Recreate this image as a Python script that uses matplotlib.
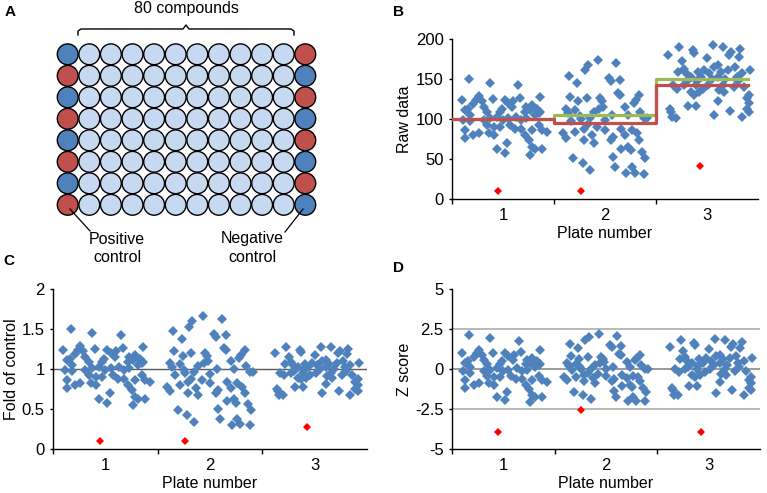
import matplotlib
matplotlib.use("Agg")
import matplotlib.pyplot as plt
from matplotlib.patches import Circle

plt.rcParams['font.family'] = ['Liberation Sans', 'DejaVu Sans']

# %% Data
plates = [1, 2, 3]

# position of each compound inside its plate slot (0 = left edge, 1 = right edge)
pos_p1 = [0.17, 0.37, 0.65, 0.10, 0.86, 0.67, 0.40, 0.26, 0.24, 0.29, 0.21, 0.31, 0.16,
          0.13, 0.34, 0.52, 0.55, 0.59, 0.60, 0.49, 0.47, 0.73, 0.78, 0.83, 0.86, 0.72,
          0.76, 0.11, 0.18, 0.37, 0.44, 0.50, 0.55, 0.63, 0.68, 0.73, 0.81, 0.85, 0.13,
          0.21, 0.26, 0.36, 0.41, 0.47, 0.57, 0.62, 0.68, 0.78, 0.85, 0.88, 0.93, 0.72,
          0.13, 0.75, 0.41, 0.34, 0.54, 0.44, 0.52, 0.78, 0.81, 0.88, 0.76, 0.31, 0.18]
pos_p2 = [0.43, 0.61, 0.33, 0.30, 0.15, 0.23, 0.54, 0.56, 0.65, 0.63, 0.65, 0.16, 0.32,
          0.45, 0.47, 0.83, 0.80, 0.78, 0.24, 0.12, 0.21, 0.48, 0.44, 0.70, 0.84, 0.39,
          0.14, 0.25, 0.57, 0.73, 0.88, 0.91, 0.17, 0.26, 0.35, 0.50, 0.32, 0.42, 0.50,
          0.29, 0.66, 0.76, 0.09, 0.21, 0.37, 0.12, 0.29, 0.39, 0.58, 0.56, 0.70, 0.81,
          0.83, 0.66, 0.73, 0.75, 0.86, 0.58, 0.19, 0.28, 0.35, 0.60, 0.76, 0.71, 0.79,
          0.88, 0.89]
pos_p3 = [0.56, 0.66, 0.23, 0.36, 0.74, 0.82, 0.72, 0.12, 0.37, 0.25, 0.50, 0.81, 0.27,
          0.57, 0.61, 0.77, 0.92, 0.22, 0.29, 0.41, 0.47, 0.52, 0.64, 0.71, 0.84, 0.34,
          0.44, 0.61, 0.79, 0.17, 0.21, 0.27, 0.39, 0.46, 0.51, 0.66, 0.76, 0.86, 0.34,
          0.42, 0.67, 0.37, 0.91, 0.89, 0.61, 0.31, 0.39, 0.91, 0.89, 0.14, 0.15, 0.57,
          0.73, 0.91, 0.84, 0.16, 0.20, 0.40, 0.55, 0.68, 0.30, 0.80, 0.62]

# B: raw data
raw_p1 = [150, 145, 142, 124, 128, 126, 125, 129, 124, 122, 119, 115, 113, 111, 109, 124,
          120, 115, 122, 113, 109, 115, 118, 113, 109, 109, 111, 99, 97, 101, 103, 99, 101,
          103, 99, 101, 105, 107, 86, 80, 82, 82, 80, 90, 92, 88, 88, 86, 92, 86, 84, 80,
          76, 74, 90, 92, 70, 62, 58, 65, 63, 63, 55, 99, 105]
raw_p2 = [174, 170, 168, 161, 154, 145, 151, 147, 149, 132, 130, 128, 126, 126, 122, 130,
          124, 120, 122, 113, 111, 115, 113, 115, 109, 109, 107, 104, 105, 105, 101, 101,
          97, 100, 101, 99, 92, 90, 86, 88, 88, 86, 82, 84, 80, 76, 74, 70, 78, 74, 80, 82,
          74, 63, 65, 61, 59, 53, 51, 45, 36, 40, 40, 32, 33, 31, 51]
raw_p3 = [192, 190, 190, 186, 184, 188, 180, 180, 182, 173, 176, 178, 163, 165, 167, 165,
          161, 159, 157, 159, 161, 157, 159, 161, 157, 153, 153, 153, 153, 143, 138, 143,
          143, 138, 143, 143, 140, 140, 134, 134, 134, 130, 130, 126, 122, 116, 116, 120,
          113, 113, 109, 105, 110, 109, 102, 102, 101, 148, 150, 150, 147, 147, 136]

# C: fold of control
fold_p1 = [1.50, 1.45, 1.42, 1.24, 1.28, 1.26, 1.25, 1.29, 1.24, 1.22, 1.19, 1.15, 1.13,
           1.11, 1.09, 1.24, 1.20, 1.15, 1.22, 1.13, 1.09, 1.15, 1.18, 1.13, 1.09, 1.09,
           1.11, 0.99, 0.97, 1.01, 1.03, 0.99, 1.01, 1.03, 0.99, 1.01, 1.05, 1.07, 0.86,
           0.80, 0.82, 0.82, 0.80, 0.90, 0.92, 0.88, 0.88, 0.86, 0.92, 0.86, 0.84, 0.80,
           0.76, 0.74, 0.90, 0.92, 0.70, 0.62, 0.58, 0.65, 0.63, 0.63, 0.55, 0.99, 1.05]
fold_p2 = [1.66, 1.62, 1.60, 1.53, 1.47, 1.38, 1.44, 1.40, 1.42, 1.26, 1.24, 1.22, 1.20,
           1.20, 1.16, 1.24, 1.18, 1.14, 1.16, 1.08, 1.06, 1.10, 1.08, 1.10, 1.04, 1.04,
           1.02, 0.99, 1.00, 1.00, 0.96, 0.96, 0.92, 0.95, 0.96, 0.94, 0.88, 0.86, 0.82,
           0.84, 0.84, 0.82, 0.78, 0.80, 0.76, 0.72, 0.70, 0.67, 0.74, 0.70, 0.76, 0.78,
           0.70, 0.60, 0.62, 0.58, 0.56, 0.50, 0.49, 0.43, 0.34, 0.38, 0.38, 0.30, 0.31,
           0.30, 0.49]
fold_p3 = [1.28, 1.27, 1.27, 1.24, 1.23, 1.25, 1.20, 1.20, 1.21, 1.15, 1.17, 1.19, 1.09,
           1.10, 1.11, 1.10, 1.07, 1.06, 1.05, 1.06, 1.07, 1.05, 1.06, 1.07, 1.05, 1.02,
           1.02, 1.02, 1.02, 0.95, 0.92, 0.95, 0.95, 0.92, 0.95, 0.95, 0.93, 0.93, 0.89,
           0.89, 0.89, 0.87, 0.87, 0.84, 0.81, 0.77, 0.77, 0.80, 0.75, 0.75, 0.73, 0.70,
           0.73, 0.73, 0.68, 0.68, 0.67, 0.99, 1.00, 1.00, 0.98, 0.98, 0.91]

# D: Z score
z_p1 = [2.13, 1.91, 1.78, 0.98, 1.16, 1.07, 1.02, 1.20, 0.98, 0.89, 0.76, 0.58, 0.49, 0.40,
        0.31, 0.98, 0.80, 0.58, 0.89, 0.49, 0.31, 0.58, 0.71, 0.49, 0.31, 0.31, 0.40, -0.13,
        -0.22, -0.04, 0.04, -0.13, -0.04, 0.04, -0.13, -0.04, 0.13, 0.22, -0.71, -0.98,
        -0.89, -0.89, -0.98, -0.53, -0.44, -0.62, -0.62, -0.71, -0.44, -0.71, -0.80, -0.98,
        -1.16, -1.24, -0.53, -0.44, -1.42, -1.78, -1.96, -1.64, -1.73, -1.73, -2.09, -0.13,
        0.13]
z_p2 = [2.18, 2.06, 2.00, 1.79, 1.59, 1.32, 1.50, 1.38, 1.44, 0.94, 0.88, 0.82, 0.76, 0.76,
        0.65, 0.88, 0.71, 0.59, 0.65, 0.38, 0.32, 0.44, 0.38, 0.44, 0.26, 0.26, 0.21, 0.12,
        0.15, 0.15, 0.03, 0.03, -0.09, 0.00, 0.03, -0.03, -0.24, -0.29, -0.41, -0.35, -0.35,
        -0.41, -0.53, -0.47, -0.59, -0.71, -0.76, -0.88, -0.65, -0.76, -0.59, -0.53, -0.76,
        -1.09, -1.03, -1.15, -1.21, -1.38, -1.44, -1.62, -1.88, -1.76, -1.76, -2.00, -1.97,
        -2.03, -1.44]
z_p3 = [1.87, 1.79, 1.79, 1.63, 1.56, 1.71, 1.40, 1.40, 1.48, 1.13, 1.25, 1.33, 0.75, 0.83,
        0.90, 0.83, 0.67, 0.60, 0.52, 0.60, 0.67, 0.52, 0.60, 0.67, 0.52, 0.37, 0.37, 0.37,
        0.37, -0.02, -0.21, -0.02, -0.02, -0.21, -0.02, -0.02, -0.13, -0.13, -0.37, -0.37,
        -0.37, -0.52, -0.52, -0.67, -0.83, -1.06, -1.06, -0.90, -1.17, -1.17, -1.33, -1.48,
        -1.29, -1.33, -1.60, -1.60, -1.63, 0.17, 0.25, 0.25, 0.13, 0.13, -0.29]

# positive control well of each plate (red diamonds)
ctrl_pos = [0.45, 0.26, 0.43]
ctrl_raw = [10, 10, 41]
ctrl_fold = [0.10, 0.095, 0.27]
ctrl_z = [-3.95, -2.55, -3.95]

# plate means drawn as steps in B
step_x = [0.5, 1.5, 2.5, 3.4]
neg_mean = [100, 105, 150, 150]     # green
all_mean = [100, 95, 143, 143]      # red

# well plate layout for A (rows top to bottom)
left_ctrl = ['blue', 'red', 'blue', 'red', 'blue', 'red', 'blue', 'red']
right_ctrl = ['red', 'blue', 'red', 'blue', 'red', 'blue', 'red', 'blue']

BLUE = '#4F81BD'
RED = '#C0504D'
LIGHT = '#C6D9F1'
W, H = 767, 493
FS = 11.5
TFS = 12

fig = plt.figure(figsize=(W / 100, H / 100), dpi=100)

# %% Panel A drawn in pixel coordinates
canvas = fig.add_axes([0, 0, 1, 1])
canvas.set_xlim(0, W); canvas.set_ylim(H, 0); canvas.axis('off')

col_x = [67.7 + 21.6 * c for c in range(12)]
row_y = [54.3 + 21.5 * r for r in range(8)]
well_col = {'blue': BLUE, 'red': RED}
for r, y in enumerate(row_y):
    for c, x in enumerate(col_x):
        if c == 0:
            fc = well_col[left_ctrl[r]]
        elif c == 11:
            fc = well_col[right_ctrl[r]]
        else:
            fc = LIGHT
        canvas.add_patch(Circle((x, y), 10.4, facecolor=fc, edgecolor='black', lw=1.0))

canvas.plot([78, 78, 81, 183, 186, 189, 291, 294, 294],
            [35, 31, 29, 29, 25, 29, 29, 31, 35], color='black', lw=1.0)
canvas.text(186, 9, '80 compounds', ha='center', va='center', fontsize=FS)
canvas.plot([70, 90], [209, 231], color='black', lw=0.9)
canvas.plot([303, 285], [209, 232], color='black', lw=0.9)
canvas.text(117, 248, 'Positive\ncontrol', ha='center', va='center', fontsize=FS,
            linespacing=1.25)
canvas.text(252, 248, 'Negative\ncontrol', ha='center', va='center', fontsize=FS,
            linespacing=1.25)

for letter, (lx, ly) in zip('ABCD', [(10, 12), (398, 12), (9, 261), (398, 268)]):
    canvas.text(lx, ly, letter, ha='center', va='center', fontsize=11, fontweight='bold')


def px_axes(x0, y0, x1, y1):
    return fig.add_axes([x0 / W, 1 - y1 / H, (x1 - x0) / W, (y1 - y0) / H])


def style(ax, ylim, yticks, ylabels, ylabel, label_x):
    ax.set_xlim(0.5, 3.5)
    ax.set_ylim(*ylim)
    for s in ['top', 'right']:
        ax.spines[s].set_visible(False)
    for s in ['left', 'bottom']:
        ax.spines[s].set_linewidth(1.0)
    ax.set_xticks(plates)
    ax.set_xticklabels([str(p) for p in plates])
    ax.set_xticks([0.5, 1.5, 2.5], minor=True)
    ax.tick_params(axis='x', which='major', length=0, pad=6.5, labelsize=TFS)
    ax.tick_params(axis='x', which='minor', length=3.5, width=1.0, direction='out')
    ax.set_yticks(yticks)
    ax.set_yticklabels(ylabels)
    ax.tick_params(axis='y', length=2.5, width=1.0, pad=3.5, labelsize=TFS)
    ax.set_xlabel('Plate number', fontsize=FS)
    ax.xaxis.set_label_coords(0.5, -0.166)
    ax.set_ylabel(ylabel, fontsize=FS)
    ax.yaxis.set_label_coords(label_x, 0.5)


def scatter(ax, ys, ctrl):
    for p, pos, y in zip(plates, [pos_p1, pos_p2, pos_p3], ys):
        ax.plot([p - 0.5 + f for f in pos], y, 'D', color=BLUE, ms=4.6, mew=0, zorder=3)
    ax.plot([p - 0.5 + f for p, f in zip(plates, ctrl_pos)], ctrl, 'D', color='#FF0000',
            ms=4.2, mew=0, zorder=4)


# %% Panel B
axB = px_axes(452, 39, 758, 199)
scatter(axB, [raw_p1, raw_p2, raw_p3], ctrl_raw)
axB.plot(step_x, neg_mean, drawstyle='steps-post', color='#9BBB59', lw=2.3, zorder=4)
axB.plot(step_x, all_mean, drawstyle='steps-post', color=RED, lw=2.3, zorder=4)
style(axB, (0, 200), [0, 50, 100, 150, 200], ['0', '50', '100', '150', '200'],
      'Raw data', -0.131)

# %% Panel C
axC = px_axes(53, 289, 367, 449)
axC.axhline(1, color='#595959', lw=1.0, zorder=2)
scatter(axC, [fold_p1, fold_p2, fold_p3], ctrl_fold)
style(axC, (0, 2), [0, 0.5, 1, 1.5, 2], ['0', '0.5', '1', '1.5', '2'],
      'Fold of control', -0.108)

# %% Panel D
axD = px_axes(452, 289, 760, 449)
for yv, col in [(2.5, '#A6A6A6'), (-2.5, '#A6A6A6'), (0, '#808080')]:
    axD.axhline(yv, color=col, lw=1.1, zorder=2)
scatter(axD, [z_p1, z_p2, z_p3], ctrl_z)
style(axD, (-5, 5), [-5, -2.5, 0, 2.5, 5], ['-5', '-2.5', '0', '2.5', '5'],
      'Z score', -0.131)

fig.savefig('out.png', dpi=100)
